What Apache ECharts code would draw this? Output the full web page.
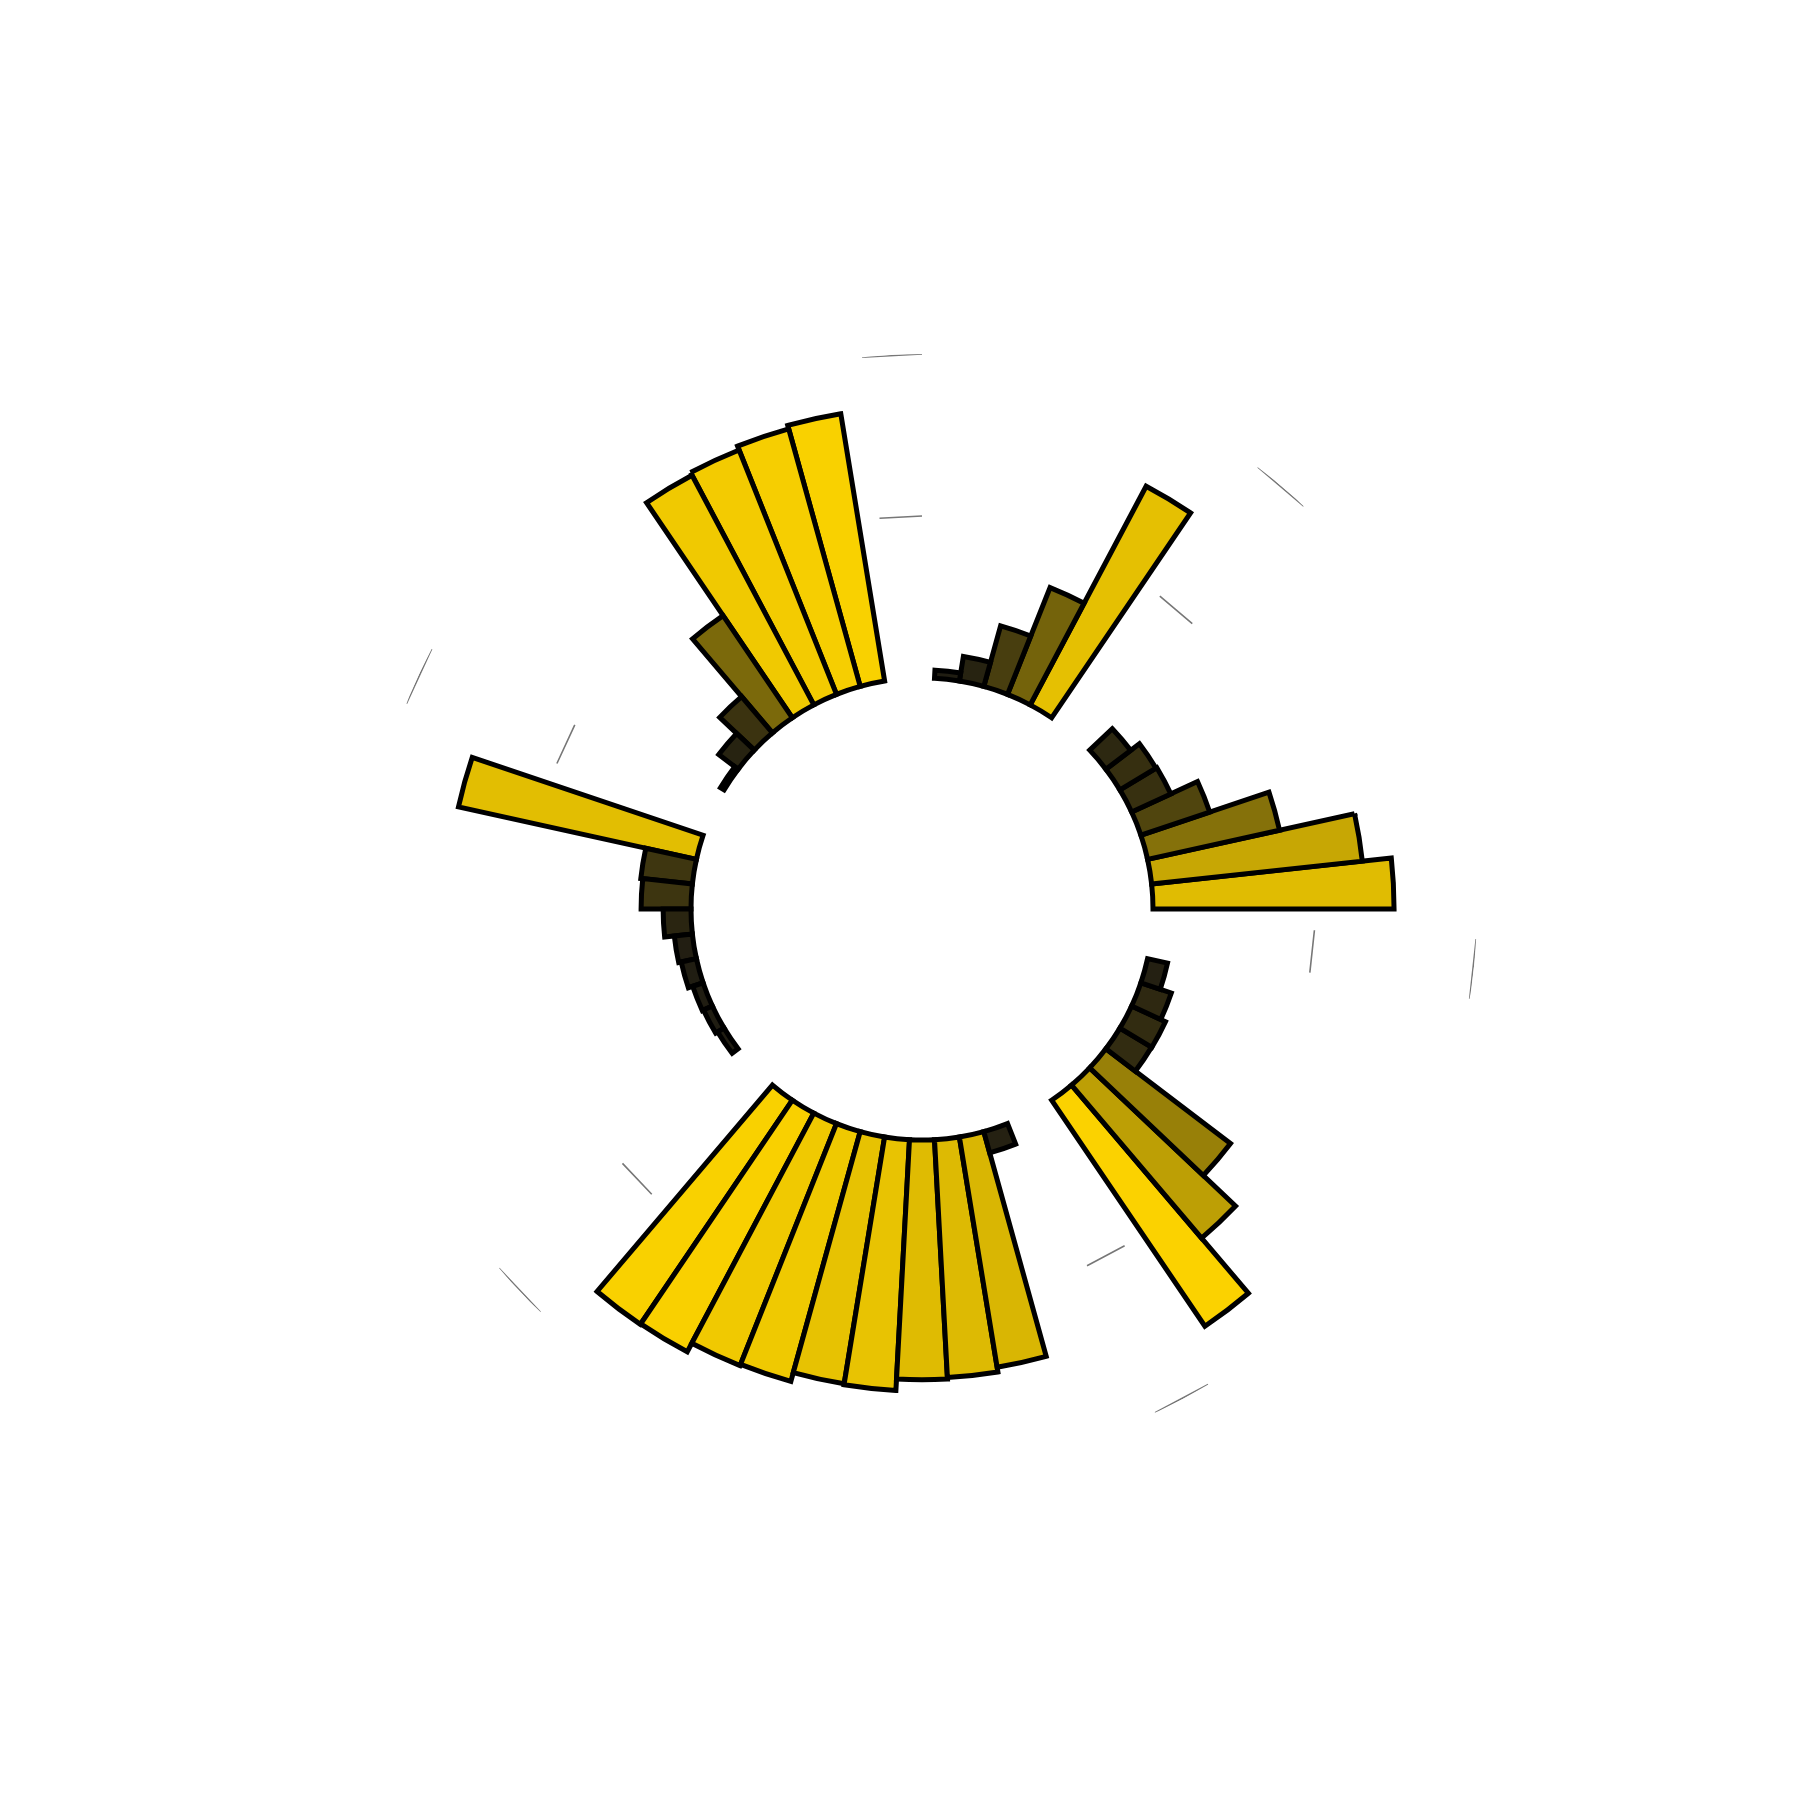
<!DOCTYPE html>
<html>
<head>
<meta charset="utf-8">
<script src="https://cdn.jsdelivr.net/npm/echarts@6/dist/echarts.min.js"></script>
<style>
  html, body { margin: 0; padding: 0; background: #ffffff; }
  #chart { width: 1800px; height: 1800px; }
</style>
</head>
<body>
<div id="chart"></div>
<script>
// Bar values per group, counterclockwise from east; groups are separated by two empty slots
const group1 = [74.4, 65.4, 41.7, 22.4, 13.3, 13.0, 9.6];
const group2 = [76.4, 35.5, 19.4, 7.7, 2.5];
const group3 = [83.6, 82.5, 81.2, 80.2, 38.1, 14.7, 7.5, 1.3];
const group4 = [75.2, 16.0, 15.4, 8.6, 5.6, 4.8, 3.4, 3.0, 2.3];
const group5 = [83.6, 83.4, 80.4, 80.0, 77.2, 77.5, 74.0, 73.5, 72.0, 6.8];
const group6 = [84.3, 62.0, 48.3, 11.4, 11.5, 9.9, 6.3];
const groups = [group1, group2, group3, group4, group5, group6];
const gapSize = 2;
// radial reference arcs drawn in the gaps
const gridValues = [50, 100];

// build slot list
const barData = [];
const gapSlots = [];
groups.forEach(g => {
  g.forEach(v => barData.push(v));
  for (let k = 0; k < gapSize; k++) { gapSlots.push(barData.length); barData.push(null); }
});
const categories = barData.map((_, i) => 'slot' + i);

const lowColor = [32, 29, 18];
const highColor = [253, 212, 0];
const cMin = 5, cMax = 85;
function valueColor(v) {
  let t = (v - cMin) / (cMax - cMin);
  t = Math.max(0, Math.min(1, t));
  const c = lowColor.map((a, i) => Math.round(a + (highColor[i] - a) * t));
  return 'rgb(' + c.join(',') + ')';
}

const gridSeries = gridValues.map(gv => {
  const d = barData.map(() => null);
  gapSlots.forEach(i => { d[i] = gv; });
  return {
    type: 'line',
    coordinateSystem: 'polar',
    data: d,
    symbol: 'none',
    connectNulls: false,
    silent: true,
    lineStyle: { color: '#777777', width: 1.6 },
    z: 1
  };
});

const chart = echarts.init(document.getElementById('chart'), null, { renderer: 'canvas' });
chart.setOption({
  backgroundColor: '#ffffff',
  animation: false,
  polar: { center: [922, 909], radius: [231, 555] },
  angleAxis: {
    type: 'category',
    data: categories,
    startAngle: 0,
    clockwise: false,
    boundaryGap: true,
    axisLine: { show: false },
    axisTick: { show: false },
    axisLabel: { show: false },
    splitLine: { show: false }
  },
  radiusAxis: {
    type: 'value',
    min: 0,
    max: 100,
    axisLine: { show: false },
    axisTick: { show: false },
    axisLabel: { show: false },
    splitLine: { show: false }
  },
  series: [
    {
      type: 'bar',
      coordinateSystem: 'polar',
      data: barData,
      barCategoryGap: '0%',
      itemStyle: {
        color: p => valueColor(p.value),
        borderColor: '#000000',
        borderWidth: 5,
        borderJoin: 'miter'
      },
      z: 2
    }
  ].concat(gridSeries)
});
</script>
</body>
</html>
